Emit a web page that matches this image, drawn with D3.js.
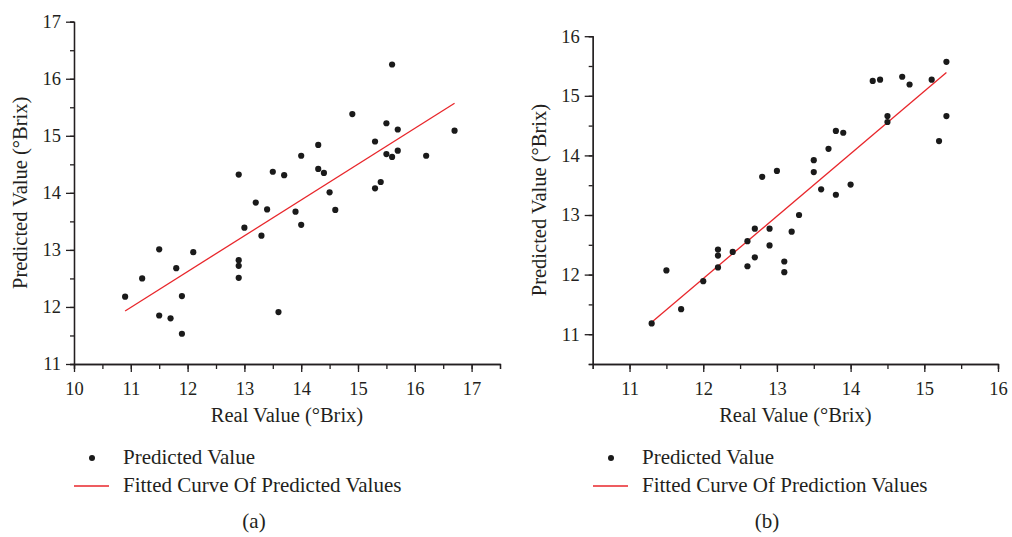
<!DOCTYPE html>
<html>
<head>
<meta charset="utf-8">
<script src="https://cdn.jsdelivr.net/npm/d3@7"></script>
<style>
  body { margin: 0; background: #fff; }
  text { font-family: "Liberation Serif", "Times New Roman", serif; fill: #231f20; }
</style>
</head>
<body>
<div id="chart"></div>
<script>
// panel (a): real vs predicted
var realA = [15.6, 14.9, 15.5, 15.7, 16.7, 15.3, 14.3, 14.0, 15.5, 15.7, 15.6, 16.2,
             12.9, 13.5, 13.7, 14.3, 14.4, 15.4, 15.3, 14.5, 13.2, 13.4, 13.9, 14.6,
             14.0, 13.0, 13.3, 11.5, 12.1, 12.9, 12.9, 12.9, 11.8, 11.2, 10.9, 11.9,
             11.5, 11.7, 11.9, 13.6];
var predA = [16.25, 15.38, 15.22, 15.11, 15.09, 14.90, 14.84, 14.65, 14.68, 14.74, 14.63, 14.65,
             14.32, 14.37, 14.31, 14.42, 14.35, 14.19, 14.08, 14.01, 13.83, 13.71, 13.67, 13.70,
             13.44, 13.39, 13.25, 13.01, 12.96, 12.82, 12.72, 12.51, 12.68, 12.50, 12.18, 12.19,
             11.85, 11.80, 11.53, 11.91];
var fitA = [[10.9, 11.93], [16.7, 15.57]];

// panel (b)
var realB = [15.3, 14.3, 14.4, 14.7, 14.8, 15.1, 14.5, 14.5, 15.3, 15.2, 13.8, 13.9,
             13.7, 13.5, 13.5, 12.8, 13.0, 13.6, 13.8, 14.0, 13.3, 13.2, 12.7, 12.9,
             12.9, 12.6, 12.2, 12.2, 12.4, 12.7, 12.6, 12.2, 13.1, 13.1, 11.5, 12.0,
             11.7, 11.3];
var predB = [15.57, 15.25, 15.27, 15.32, 15.19, 15.27, 14.66, 14.56, 14.66, 14.24, 14.41, 14.38,
             14.11, 13.92, 13.72, 13.64, 13.74, 13.43, 13.34, 13.51, 13.00, 12.72, 12.77, 12.77,
             12.49, 12.56, 12.42, 12.32, 12.38, 12.29, 12.14, 12.12, 12.22, 12.04, 12.07, 11.89,
             11.42, 11.18];
var fitB = [[11.3, 11.2], [15.3, 15.39]];

var xTicksA = [10, 11, 12, 13, 14, 15, 16, 17];
var yTicksA = [11, 12, 13, 14, 15, 16, 17];
var xTicksB = [11, 12, 13, 14, 15, 16];
var yTicksB = [11, 12, 13, 14, 15, 16];

var svg = d3.select("#chart").append("svg")
    .attr("width", 1012)
    .attr("height", 537);

var ink = "#231f20", red = "#e8262b";

function panel(o) {
  var x = d3.scaleLinear().domain(o.xDom).range(o.xRange);
  var y = d3.scaleLinear().domain(o.yDom).range(o.yRange);
  var g = svg.append("g");

  var minorX = d3.range(o.xDom[0], o.xDom[1] + 0.01, 0.5);
  var minorY = d3.range(o.yDom[0], o.yDom[1] + 0.01, 0.5);

  // minor ticks
  g.append("g").attr("transform", "translate(0," + o.yRange[0] + ")")
    .call(d3.axisBottom(x).tickValues(minorX).tickSize(5).tickFormat(""));
  g.append("g").attr("transform", "translate(" + o.xRange[0] + ",0)")
    .call(d3.axisLeft(y).tickValues(minorY).tickSize(4).tickFormat(""));

  // major ticks + labels
  g.append("g").attr("class", "ax").attr("transform", "translate(0," + o.yRange[0] + ")")
    .call(d3.axisBottom(x).tickValues(o.xTicks).tickFormat(d3.format("d"))
      .tickSize(8).tickPadding(10).tickSizeOuter(0));
  g.append("g").attr("class", "ax").attr("transform", "translate(" + o.xRange[0] + ",0)")
    .call(d3.axisLeft(y).tickValues(o.yTicks).tickFormat(d3.format("d"))
      .tickSize(8).tickPadding(5).tickSizeOuter(0));

  g.selectAll(".domain, line").attr("stroke", ink).attr("stroke-width", 1.3);
  g.selectAll(".ax text").style("font-size", "18.5px").attr("fill", ink)
    .style("font-family", "'Liberation Serif', serif");

  // fitted line
  g.append("path")
    .datum(o.fit)
    .attr("d", d3.line().x(function(d) { return x(d[0]); }).y(function(d) { return y(d[1]); }))
    .attr("stroke", red).attr("stroke-width", 1.3).attr("fill", "none");

  // points
  g.selectAll("circle.pt")
    .data(o.real)
    .enter().append("circle")
      .attr("class", "pt")
      .attr("cx", function(d) { return x(d); })
      .attr("cy", function(d, i) { return y(o.pred[i]); })
      .attr("r", 3.1)
      .attr("fill", "#1a1a1a");

  // axis titles
  g.append("text")
    .attr("x", (o.xRange[0] + o.xRange[1]) / 2).attr("y", 422)
    .attr("text-anchor", "middle").style("font-size", "20.5px")
    .text("Real Value (°Brix)");
  g.append("text")
    .attr("transform", "translate(" + o.yTitleX + "," + (o.yRange[0] + o.yRange[1]) / 2 + ") rotate(-90)")
    .attr("text-anchor", "middle").style("font-size", "20.5px")
    .text("Predicted Value (°Brix)");

  // legend
  g.append("circle").attr("cx", o.legX + 18).attr("cy", 458).attr("r", 3).attr("fill", "#1a1a1a");
  g.append("text").attr("x", o.legX + 49).attr("y", 464).style("font-size", "21px").text("Predicted Value");
  g.append("line").attr("x1", o.legX).attr("x2", o.legX + 35).attr("y1", 486).attr("y2", 486)
    .attr("stroke", red).attr("stroke-width", 1.3);
  g.append("text").attr("x", o.legX + 49).attr("y", 492).style("font-size", "21px").text(o.fitLabel);

  g.append("text").attr("x", o.capX).attr("y", 528)
    .attr("text-anchor", "middle").style("font-size", "21px").text(o.cap);
}

panel({
  xDom: [10, 17.5], xRange: [74, 500],
  yDom: [11, 17], yRange: [364, 21.7],
  xTicks: xTicksA, yTicks: yTicksA,
  real: realA, pred: predA, fit: fitA,
  yTitleX: 27,
  legX: 74, fitLabel: "Fitted Curve Of Predicted Values",
  cap: "(a)", capX: 254
});

panel({
  xDom: [10.5, 16], xRange: [592.7, 998],
  yDom: [10.5, 16], yRange: [364, 36.2],
  xTicks: xTicksB, yTicks: yTicksB,
  real: realB, pred: predB, fit: fitB,
  yTitleX: 546,
  legX: 593, fitLabel: "Fitted Curve Of Prediction Values",
  cap: "(b)", capX: 767
});
</script>
</body>
</html>
